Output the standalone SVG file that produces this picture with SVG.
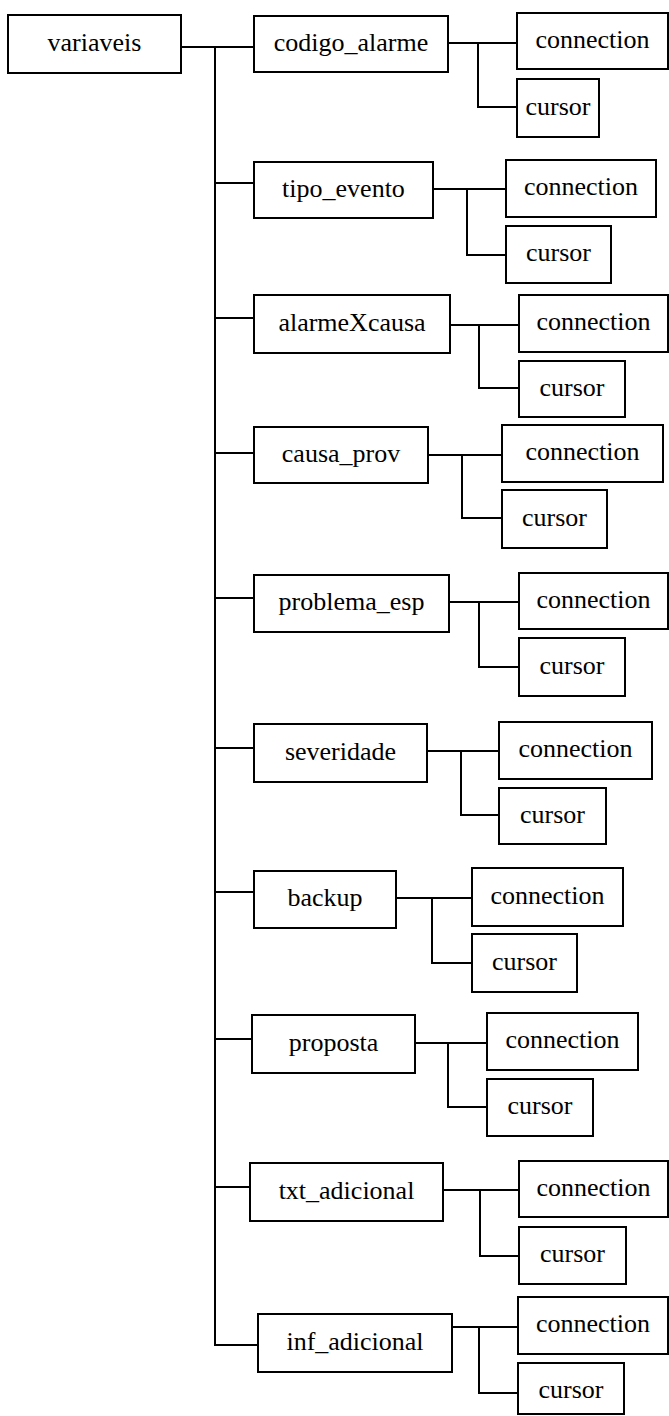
<svg xmlns="http://www.w3.org/2000/svg" width="669" height="1416" viewBox="0 0 669 1416">
  <style>
    rect { fill: #ffffff; stroke: #000000; stroke-width: 2; }
    .wire { fill: none; stroke: #000000; stroke-width: 2; }
    text { font-family: "Liberation Serif", "Times New Roman", serif; font-size: 26px; fill: #000000; text-anchor: middle; }
  </style>
  <rect x="0" y="0" width="669" height="1416" style="fill:#ffffff;stroke:none"/>

  <!-- connectors -->
  <g id="connectors" class="wire">
    <!-- root trunk -->
    <path class="wire" d="M181 47 H254 M215 47 V1345 H258"/>
    <path class="wire" d="M215 183 H254"/>
    <path class="wire" d="M215 318 H254"/>
    <path class="wire" d="M215 453 H254"/>
    <path class="wire" d="M215 598 H254"/>
    <path class="wire" d="M215 748 H254"/>
    <path class="wire" d="M215 892 H254"/>
    <path class="wire" d="M215 1039 H252"/>
    <path class="wire" d="M215 1187 H250"/>
    <!-- per-variable branches to connection / cursor -->
    <path class="wire" d="M448 43 H517 M478 43 V107 H517"/>
    <path class="wire" d="M433 189 H506 M467 189 V255 H506"/>
    <path class="wire" d="M450 325 H519 M479 325 V388 H519"/>
    <path class="wire" d="M428 455 H502 M462 455 V518 H502"/>
    <path class="wire" d="M449 602 H519 M479 602 V667 H519"/>
    <path class="wire" d="M427 751 H499 M461 751 V815 H499"/>
    <path class="wire" d="M396 898 H472 M432 898 V963 H472"/>
    <path class="wire" d="M415 1043 H487 M448 1043 V1107 H487"/>
    <path class="wire" d="M443 1190 H519 M480 1190 V1256 H519"/>
    <path class="wire" d="M452 1327 H518 M479 1327 V1393 H518"/>
  </g>

  <g id="variaveis">
    <rect x="8" y="15" width="173" height="58"/>
    <text x="94.5" y="50.5">variaveis</text>
  </g>

  <g id="codigo_alarme">
    <rect x="254" y="16" width="194" height="56"/>
    <text x="351" y="50.5">codigo_alarme</text>
  </g>
  <g id="codigo_alarme_connection">
    <rect x="517" y="13" width="151" height="56"/>
    <text x="592.5" y="47.5">connection</text>
  </g>
  <g id="codigo_alarme_cursor">
    <rect x="517" y="79" width="82" height="58"/>
    <text x="558" y="114.5">cursor</text>
  </g>

  <g id="tipo_evento">
    <rect x="254" y="162" width="179" height="56"/>
    <text x="343.5" y="196.5">tipo_evento</text>
  </g>
  <g id="tipo_evento_connection">
    <rect x="506" y="160" width="150" height="57"/>
    <text x="581" y="195">connection</text>
  </g>
  <g id="tipo_evento_cursor">
    <rect x="506" y="226" width="105" height="57"/>
    <text x="558.5" y="261">cursor</text>
  </g>

  <g id="alarmeXcausa">
    <rect x="254" y="295" width="196" height="58"/>
    <text x="352" y="330.5">alarmeXcausa</text>
  </g>
  <g id="alarmeXcausa_connection">
    <rect x="519" y="295" width="149" height="57"/>
    <text x="593.5" y="330">connection</text>
  </g>
  <g id="alarmeXcausa_cursor">
    <rect x="519" y="361" width="106" height="56"/>
    <text x="572" y="395.5">cursor</text>
  </g>

  <g id="causa_prov">
    <rect x="254" y="427" width="174" height="56"/>
    <text x="341" y="461.5">causa_prov</text>
  </g>
  <g id="causa_prov_connection">
    <rect x="502" y="425" width="161" height="57"/>
    <text x="582.5" y="460">connection</text>
  </g>
  <g id="causa_prov_cursor">
    <rect x="502" y="490" width="105" height="58"/>
    <text x="554.5" y="525.5">cursor</text>
  </g>

  <g id="problema_esp">
    <rect x="254" y="575" width="195" height="57"/>
    <text x="351.5" y="610">problema_esp</text>
  </g>
  <g id="problema_esp_connection">
    <rect x="519" y="573" width="149" height="56"/>
    <text x="593.5" y="607.5">connection</text>
  </g>
  <g id="problema_esp_cursor">
    <rect x="519" y="638" width="106" height="58"/>
    <text x="572" y="673.5">cursor</text>
  </g>

  <g id="severidade">
    <rect x="254" y="724" width="173" height="58"/>
    <text x="340.5" y="759.5">severidade</text>
  </g>
  <g id="severidade_connection">
    <rect x="499" y="722" width="153" height="57"/>
    <text x="575.5" y="757">connection</text>
  </g>
  <g id="severidade_cursor">
    <rect x="499" y="788" width="107" height="56"/>
    <text x="552.5" y="822.5">cursor</text>
  </g>

  <g id="backup">
    <rect x="254" y="871" width="142" height="57"/>
    <text x="325" y="906">backup</text>
  </g>
  <g id="backup_connection">
    <rect x="472" y="868" width="151" height="58"/>
    <text x="547.5" y="903.5">connection</text>
  </g>
  <g id="backup_cursor">
    <rect x="472" y="934" width="105" height="58"/>
    <text x="524.5" y="969.5">cursor</text>
  </g>

  <g id="proposta">
    <rect x="252" y="1015" width="163" height="58"/>
    <text x="333.5" y="1050.5">proposta</text>
  </g>
  <g id="proposta_connection">
    <rect x="487" y="1013" width="151" height="57"/>
    <text x="562.5" y="1048">connection</text>
  </g>
  <g id="proposta_cursor">
    <rect x="487" y="1079" width="106" height="57"/>
    <text x="540" y="1114">cursor</text>
  </g>

  <g id="txt_adicional">
    <rect x="250" y="1163" width="193" height="58"/>
    <text x="346.5" y="1198.5">txt_adicional</text>
  </g>
  <g id="txt_adicional_connection">
    <rect x="519" y="1161" width="149" height="56"/>
    <text x="593.5" y="1195.5">connection</text>
  </g>
  <g id="txt_adicional_cursor">
    <rect x="519" y="1227" width="107" height="57"/>
    <text x="572.5" y="1262">cursor</text>
  </g>

  <g id="inf_adicional">
    <rect x="258" y="1314" width="194" height="58"/>
    <text x="355" y="1349.5">inf_adicional</text>
  </g>
  <g id="inf_adicional_connection">
    <rect x="518" y="1297" width="150" height="57"/>
    <text x="593" y="1332">connection</text>
  </g>
  <g id="inf_adicional_cursor">
    <rect x="518" y="1363" width="106" height="51"/>
    <text x="571" y="1398">cursor</text>
  </g>
</svg>
